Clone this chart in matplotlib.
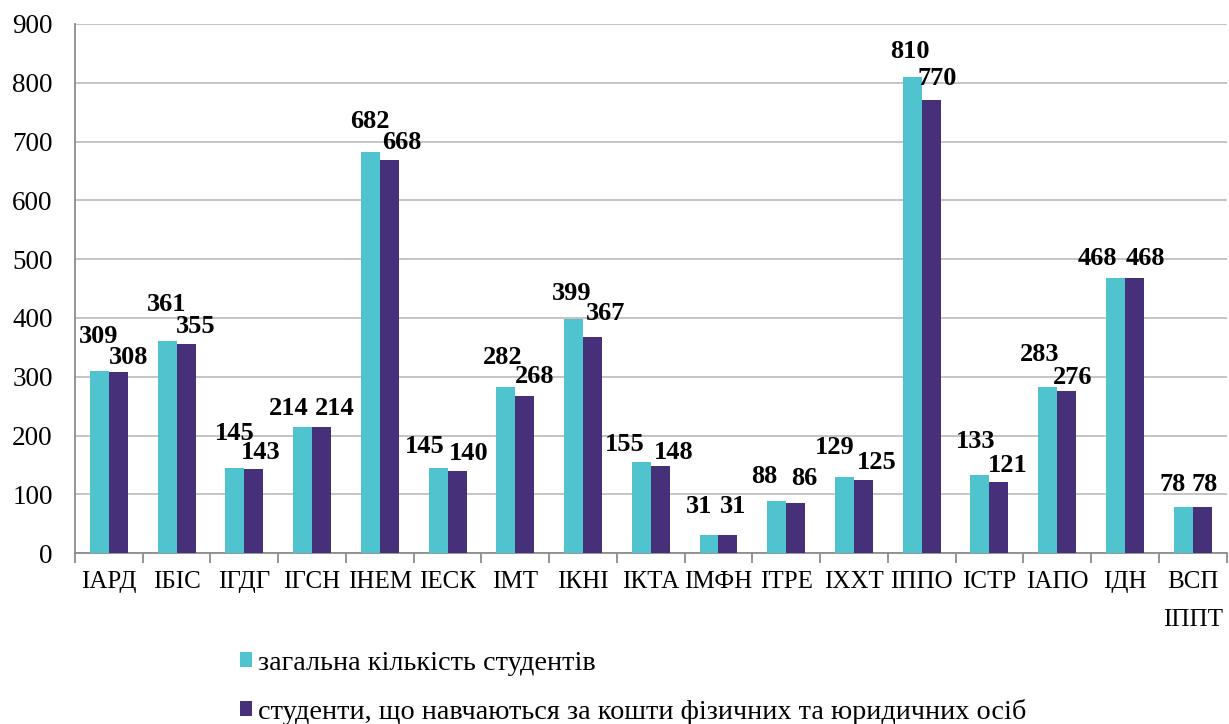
import numpy as np
import matplotlib
matplotlib.use("Agg")
import matplotlib.pyplot as plt

# Data
categories = ["ІАРД", "ІБІС", "ІГДГ", "ІГСН", "ІНЕМ", "ІЕСК", "ІМТ", "ІКНІ", "ІКТА",
              "ІМФН", "ІТРЕ", "ІХХТ", "ІППО", "ІСТР", "ІАПО", "ІДН", "ВСП\nІППТ"]
total = [309, 361, 145, 214, 682, 145, 282, 399, 155, 31, 88, 129, 810, 133, 283, 468, 78]
paid = [308, 355, 143, 214, 668, 140, 268, 367, 148, 31, 86, 125, 770, 121, 276, 468, 78]
series_names = ["загальна кількість студентів",
                "студенти, що навчаються за кошти фізичних та юридичних осіб"]

# value label placement (pixel offsets from category centre / bar top, as in the original)
total_dx = [-10, -10, -10, -23, -10, -23, -13, -11, -26, -19, -22, -19, -12, -14, -18, -28, -20]
total_dy = [35, 36, 34, 19, 31, 21, 30, 25, 17, 28, 25, 30, 25, 33, 32, 19, 23]
paid_dx = [20, 19, 16, 23, 22, 21, 19, 23, 23, 15, 18, 23, 15, 18, 15, 20, 12]
paid_dy = [15, 18, 17, 19, 18, 17, 19, 24, 14, 28, 24, 17, 22, 16, 13, 19, 23]

teal = '#4FC3CE'
purple = '#46307A'
grid_color = '#BFBFBF'
axis_color = '#8C8C8C'

plt.rcParams['font.family'] = 'serif'
plt.rcParams['font.serif'] = ['Liberation Serif', 'Times New Roman', 'DejaVu Serif']

fig = plt.figure(figsize=(12.29, 7.24), dpi=100)
ax = fig.add_axes([0.061, 0.236, 0.937, 0.731])

x = np.arange(len(categories))
w = 0.28
b1 = ax.bar(x - w / 2, total, w, color=teal, label=series_names[0], zorder=3)
b2 = ax.bar(x + w / 2, paid, w, color=purple, label=series_names[1], zorder=3)

# value labels
for xi, v, dx, dy in zip(x, total, total_dx, total_dy):
    ax.annotate(str(v), (xi, v), xytext=(dx, dy), textcoords='offset pixels',
                ha='center', va='center', fontsize=19, fontweight='bold', zorder=4)
for xi, v, dx, dy in zip(x, paid, paid_dx, paid_dy):
    ax.annotate(str(v), (xi, v), xytext=(dx, dy), textcoords='offset pixels',
                ha='center', va='center', fontsize=19, fontweight='bold', zorder=4)

ax.set_xlim(-0.5, len(categories) - 0.5)
ax.set_ylim(0, 900)
ax.set_yticks(np.arange(0, 901, 100))
ax.yaxis.grid(True, color=grid_color, linewidth=1.3, zorder=0)
ax.set_axisbelow(True)

# category labels centred, tick marks on the boundaries
ax.set_xticks(x)
ax.set_xticklabels(categories, fontsize=18)
for t in ax.get_xticklabels():
    t.set_linespacing(1.95)
ax.tick_params(axis='x', length=0, pad=13)
ax.set_xticks(np.arange(-0.5, len(categories)), minor=True)
ax.tick_params(axis='x', which='minor', length=7, width=1.3, color=axis_color)
ax.tick_params(axis='y', length=0, labelsize=19.5, pad=16)

for s in ['top', 'right']:
    ax.spines[s].set_visible(False)
for s in ['left', 'bottom']:
    ax.spines[s].set_color(axis_color)
    ax.spines[s].set_linewidth(1.3)

fig.legend(handles=[b1, b2], loc='center left', bbox_to_anchor=(0.195, 0.05),
           frameon=False, fontsize=20.3, handlelength=0.45, handleheight=0.45,
           handletextpad=0.2, labelspacing=0.82, borderpad=0, borderaxespad=0)

fig.savefig('out.png', dpi=100)
